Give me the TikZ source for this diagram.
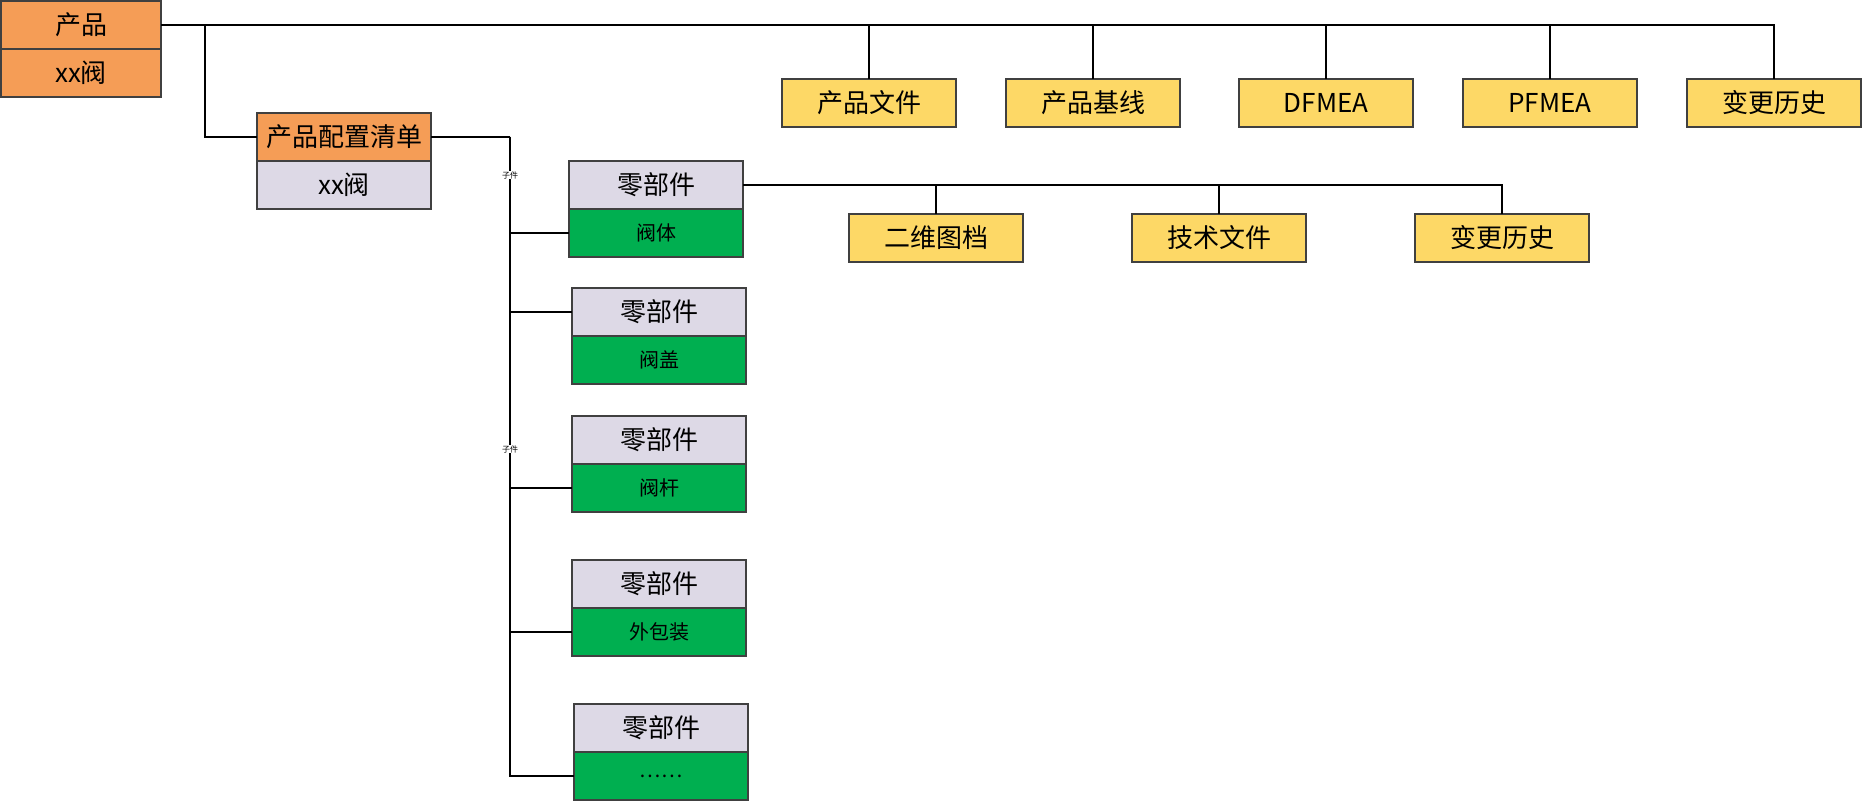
\documentclass[tikz,border=0pt]{standalone}
\usepackage{fontspec}
\newfontfamily\cjk{Noto Sans CJK SC}
\usetikzlibrary{positioning}
\definecolor{prodOrange}{HTML}{F59D56}
\definecolor{partLilac}{HTML}{DDD9E6}
\definecolor{partGreen}{HTML}{00AF50}
\definecolor{docYellow}{HTML}{FDD866}
\definecolor{lineGray}{gray}{0.25}

\begin{document}
\begin{tikzpicture}[x=0.5pt, y=-0.5pt,
    box/.style={draw=lineGray, line width=0.6pt, minimum width=87pt, minimum height=24pt,
        inner sep=0pt, outer sep=0pt, font=\cjk\fontsize{13}{15}\selectfont},
    subbox/.style={box, font=\cjk\fontsize{10}{12}\selectfont},
    conn/.style={line width=0.6pt},
    trunk/.style={line width=1pt},
    tag/.style={fill=white, inner sep=0.3pt, font=\cjk\fontsize{4}{4}\selectfont}]
    \useasboundingbox (0,0) rectangle (1863,802);

    % product
    \node[box, fill=prodOrange, minimum width=80pt] (prod) at (81,25) {产品};
    \node[box, fill=prodOrange, minimum width=80pt, below=0pt of prod] (prodName) {xx阀};
    % configuration list
    \node[box, fill=prodOrange] (bom) at (344,137) {产品配置清单};
    \node[box, fill=partLilac, below=0pt of bom] (bomName) {xx阀};

    % product documents
    \foreach \name/\x/\txt in {doc1/869/产品文件, doc2/1093/产品基线, doc3/1326/DFMEA,
        doc4/1550/PFMEA, doc5/1774/变更历史}
        \node[box, fill=docYellow] (\name) at (\x,103) {\txt};

    % parts
    \foreach \name/\x/\y/\txt in {part1/656/185/阀体, part2/659/312/阀盖, part3/659/440/阀杆,
        part4/659/584/外包装, part5/661/728/……} {
        \node[box, fill=partLilac] (\name) at (\x,\y) {零部件};
        \node[subbox, fill=partGreen, below=0pt of \name] (\name-b) {\txt};
    }

    % part documents
    \foreach \name/\x/\txt in {att1/936/二维图档, att2/1219/技术文件, att3/1502/变更历史}
        \node[box, fill=docYellow] (\name) at (\x,238) {\txt};

    % connectors
    \draw[trunk] (prod.east) -| (doc5.north);
    \foreach \name in {doc1,doc2,doc3,doc4}
        \draw[conn] (prod.east -| \name.north) -- (\name.north);
    \coordinate (tap) at (205,25);
    \draw[conn] (tap) |- (bom.west);
    \coordinate (bus) at (510,137);
    \draw[conn] (bom.east) -- (bus);
    \foreach \target in {part1-b, part2, part3-b, part4-b, part5-b}
        \draw[conn] (bus) |- (\target.west);
    \foreach \name in {att1,att2,att3}
        \draw[conn] (part1.east) -| (\name.north);
    \node[tag] (tag1) at (510,175) {子件};
    \node[tag] (tag2) at (510,449) {子件};
\end{tikzpicture}
\end{document}
